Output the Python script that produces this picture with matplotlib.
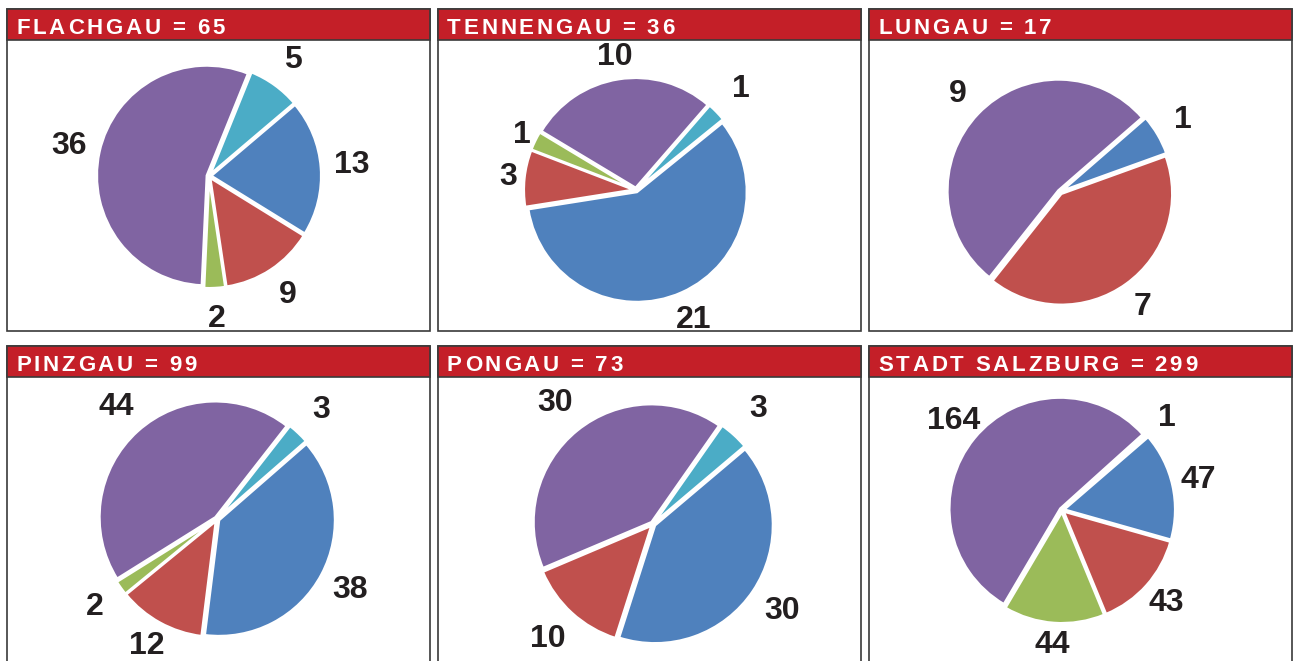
import matplotlib
matplotlib.use('Agg')
import numpy as np
import matplotlib.pyplot as plt
from matplotlib.patches import Rectangle

# one entry per region, slices listed clockwise from the teal one
regions = ['FLACHGAU', 'TENNENGAU', 'LUNGAU', 'PINZGAU', 'PONGAU', 'STADT SALZBURG']
teal = [5, 1, 0, 3, 3, 1]
blue = [13, 21, 1, 38, 30, 47]
red = [9, 3, 7, 12, 10, 43]
green = [2, 1, 0, 2, 0, 44]
purple = [36, 10, 9, 44, 30, 164]

slice_colors = ['#4BACC6', '#4F81BD', '#C0504D', '#9BBB59', '#8064A2']

W, H = 1300, 661
fig = plt.figure(figsize=(W / 100, H / 100), dpi=100)


def fx(x):
    return x / W


def fy(y):
    return 1 - y / H


# layout in pixels (top-left origin)
col_left = [7, 438, 869]
row_top = [9, 346]
panel_w, panel_h, head_h = 423, 322, 31
centres = [(209, 176), (636, 190), (1060, 192), (217, 519), (653, 524), (1062, 510)]
radii = [110, 110, 111, 116, 118, 111]
start = [68, 49, 41, 52, 55, 42]
label_dist = [1.28, 1.27, 1.26, 1.28, 1.3, 1.24]
# a few labels sit closer/further than the rest (panel, slice) -> distance
label_fix = {(1, 0): 1.32, (1, 2): 1.17, (1, 3): 1.15, (1, 4): 1.22,
             (3, 2): 1.25, (5, 3): 1.22}

renderer = fig.canvas.get_renderer()
track = 2.8

for i, name in enumerate(regions):
    left = col_left[i % 3]
    top = row_top[i // 3]
    vals = [teal[i], blue[i], red[i], green[i], purple[i]]
    total = sum(vals)

    fig.add_artist(Rectangle((fx(left), fy(top + panel_h)), panel_w / W, panel_h / H,
                             transform=fig.transFigure, fill=False,
                             edgecolor='#3a3a3a', linewidth=1.2, zorder=1))
    fig.add_artist(Rectangle((fx(left), fy(top + head_h)), panel_w / W, head_h / H,
                             transform=fig.transFigure, facecolor='#C41F28',
                             edgecolor='#3a3a3a', linewidth=1.2, zorder=2))

    # letter-spaced header
    x = left + 9
    for ch in f'{name} = {total}':
        if ch == ' ':
            x += 6 + track
            continue
        t = fig.text(fx(x), fy(top + 25), ch, color='white', fontsize=16,
                     fontweight='bold', family='Liberation Sans',
                     ha='left', va='baseline', zorder=3)
        x += t.get_window_extent(renderer).width + track

    cx, cy = centres[i]
    R = radii[i]
    half = 1.45 * R
    ax = fig.add_axes([fx(cx - half), fy(cy + half), 2 * half / W, 2 * half / H])
    keep = [k for k, v in enumerate(vals) if v > 0]
    wedges, texts = ax.pie([vals[k] for k in keep],
                           colors=[slice_colors[k] for k in keep],
                           labels=[str(vals[k]) for k in keep],
                           startangle=start[i], counterclock=False,
                           explode=[0.02] * len(keep), labeldistance=label_dist[i],
                           wedgeprops=dict(edgecolor='white', linewidth=1.8),
                           textprops=dict(fontsize=23, fontweight='bold',
                                          color='#231f20', family='Liberation Sans'))
    for k, w, t in zip(keep, wedges, texts):
        t.set_horizontalalignment('center')
        if (i, k) in label_fix:
            mid = np.radians((w.theta1 + w.theta2) / 2)
            d = label_fix[(i, k)]
            t.set_position((d * np.cos(mid), d * np.sin(mid)))
    ax.set_xlim(-1.45, 1.45)
    ax.set_ylim(-1.45, 1.45)
    ax.axis('off')

fig.savefig('out.png', dpi=100)
